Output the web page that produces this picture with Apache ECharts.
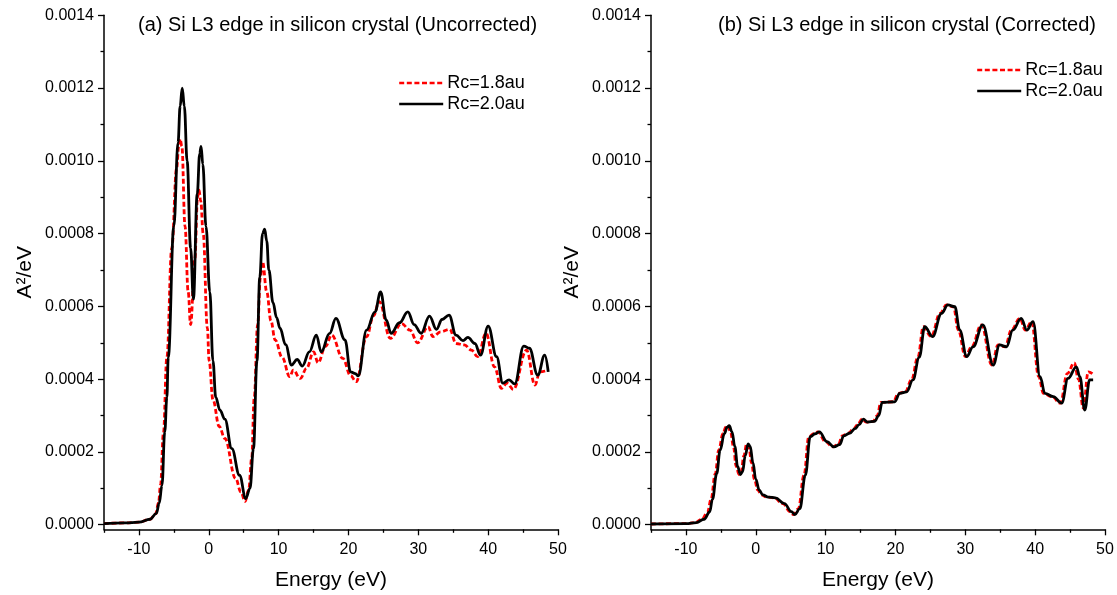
<!DOCTYPE html>
<html>
<head>
<meta charset="utf-8">
<script src="https://cdn.jsdelivr.net/npm/echarts@6/dist/echarts.min.js"></script>
<style>html,body{margin:0;padding:0;background:#fff}#c{width:1117px;height:595px}</style>
</head>
<body>
<div id="c"></div>
<script>
// ---- Panel (a) Uncorrected ----
const aE18 = [-15,-12,-10,-8.4,-7.6,-7.2,-6.9,-6.5,-6.0,-5.3,-4.6,-4.3,-4.1,-3.85,-3.4,-2.95,-2.6,-2.0,-1.6,-1.4,-1.15,-0.8,-0.2,0.05,0.6,1.5,2.3,3.85,4.6,5.2,5.7,6.15,6.5,7.0,7.4,7.7,8.3,8.9,9.5,10.5,11.6,12.1,13.1,14.0,15.0,15.65,16.7,17.6,19.2,20.3,21.1,22.6,23.6,24.4,26.0,27.6,28.8,29.9,31.4,32.1,33.2,34.5,35.4,36.6,37.6,38.5,39.7,40.9,41.9,42.7,43.6,45.5,46.7,47.4,48.6];
const aV18 = [0.000003,0.000005,0.000007,0.000015,0.00003,0.00006,0.00011,0.00025,0.00046,0.00076,0.00098,0.00104,0.00106,0.00104,0.00082,0.00064,0.00055,0.00073,0.0009,0.00092,0.00089,0.00080,0.00054,0.00045,0.000343,0.00027,0.000237,0.000127,0.00009,0.000064,0.000095,0.000182,0.000347,0.00055,0.00068,0.000723,0.00064,0.00056,0.000508,0.00046,0.000407,0.000425,0.000402,0.00043,0.000475,0.000445,0.00049,0.000521,0.000457,0.00041,0.000393,0.000517,0.000575,0.000613,0.000512,0.000553,0.000535,0.0005,0.000544,0.000517,0.00053,0.000537,0.000498,0.000494,0.00048,0.000462,0.000526,0.000434,0.000375,0.000389,0.000372,0.00048,0.000384,0.00042,0.000425];
const aE20 = [-15,-12,-10,-8.4,-7.5,-7.1,-6.7,-6.3,-6.0,-5.8,-5.0,-4.4,-4.1,-3.8,-3.5,-3.1,-2.6,-2.2,-1.65,-1.3,-1.1,-0.85,-0.4,0.15,0.6,1.0,1.6,2.3,3.3,4.4,5.3,5.9,6.4,6.9,7.3,7.7,8.0,8.3,8.6,9.2,9.7,10.2,11.0,11.85,12.65,13.4,14.4,15.4,16.1,17.3,18.2,19.5,20.3,21.0,21.4,22.6,23.8,24.6,25.4,26.1,27.3,28.5,29.4,30.4,31.6,32.6,33.4,34.4,35.4,36.4,37.1,38.1,38.9,40.0,41.2,42.1,43.0,43.8,45.1,45.9,47.1,48.1,48.6];
const aV20 = [0.000003,0.000005,0.000007,0.000015,0.000031,0.000059,0.000108,0.000255,0.00035,0.00046,0.00082,0.00105,0.00115,0.0012,0.00115,0.001,0.00076,0.00062,0.00091,0.00102,0.00104,0.00099,0.00082,0.00064,0.00045,0.00035,0.000315,0.00029,0.000209,0.000136,0.000072,0.0001,0.000209,0.00045,0.00068,0.0008,0.000812,0.00078,0.0007,0.00061,0.00057,0.00054,0.000495,0.000439,0.000454,0.000436,0.000475,0.000521,0.000475,0.000526,0.000567,0.000508,0.00042,0.000415,0.000409,0.000535,0.000585,0.00064,0.000563,0.000526,0.000555,0.000585,0.00055,0.000526,0.000573,0.000537,0.000564,0.000576,0.000521,0.000506,0.000515,0.000498,0.000466,0.000546,0.000462,0.000389,0.000398,0.000387,0.000491,0.000485,0.000411,0.000466,0.00042];

// ---- Panel (b) Corrected ----
const bE18 = [-15,-10,-8.7,-7.7,-6.9,-6.4,-5.8,-5.3,-4.7,-4.3,-4.0,-3.6,-3.2,-2.8,-2.4,-2.1,-1.7,-1.3,-1.0,-0.6,-0.2,0.3,0.8,1.6,2.6,3.9,4.9,5.4,6.1,6.9,7.6,8.3,8.9,10.0,11.0,11.8,12.4,13.3,14.0,14.6,15.2,15.8,16.8,17.4,17.9,19.7,20.4,21.4,22.3,23.2,24.0,25.1,26.4,27.3,28.3,29.0,30.0,30.9,32.3,33.8,34.7,35.7,36.6,37.8,38.6,39.5,40.5,41.2,42.4,43.6,44.6,45.6,46.2,46.9,47.6,48.2];
const bV18 = [0.000002,0.000003,0.000006,0.000015,0.000035,0.00007,0.00014,0.000205,0.00025,0.000268,0.000272,0.000255,0.000215,0.00016,0.000138,0.000145,0.00019,0.000222,0.000215,0.00017,0.000125,0.000095,0.000082,0.000076,0.000074,0.000058,0.000036,0.000028,0.000044,0.000136,0.000242,0.00025,0.000255,0.000228,0.000214,0.00022,0.000244,0.000252,0.000264,0.000275,0.00029,0.000282,0.000284,0.0003,0.000336,0.000338,0.000361,0.000365,0.000398,0.00046,0.000544,0.000517,0.000581,0.000604,0.000599,0.000535,0.000462,0.000489,0.000549,0.000439,0.000494,0.000489,0.000535,0.000567,0.000535,0.000558,0.000407,0.000361,0.000352,0.000334,0.000415,0.000445,0.0004,0.00032,0.00042,0.000415];
const bE20 = [-15,-10,-8.5,-7.4,-6.6,-6.2,-5.6,-5.1,-4.5,-4.1,-3.8,-3.4,-3.0,-2.6,-2.2,-1.9,-1.5,-1.1,-0.8,-0.4,0.0,0.5,1.0,1.8,2.8,4.1,5.1,5.6,6.3,7.1,7.8,8.5,9.1,10.2,11.2,12.0,12.6,13.5,14.2,14.8,15.4,16.0,17.0,17.6,18.1,19.9,20.6,21.6,22.5,23.4,24.2,25.3,26.6,27.5,28.5,29.2,30.2,31.1,32.5,34.0,34.9,35.9,36.8,38.0,38.8,39.7,40.7,41.4,42.6,43.8,44.7,45.9,46.4,47.1,47.8,48.3];
const bV20 = [0.000002,0.000003,0.000006,0.000015,0.000035,0.00007,0.00014,0.000205,0.00025,0.000268,0.000272,0.000255,0.000215,0.00016,0.000138,0.000145,0.00019,0.000222,0.000215,0.00017,0.000125,0.000095,0.000082,0.000076,0.000074,0.000058,0.000036,0.000028,0.000044,0.000136,0.000242,0.00025,0.000255,0.000228,0.000214,0.00022,0.000244,0.000252,0.000264,0.000275,0.00029,0.000282,0.000284,0.0003,0.000336,0.000338,0.000361,0.000365,0.000398,0.00046,0.000544,0.000517,0.000581,0.000604,0.000599,0.000535,0.000462,0.000489,0.000549,0.000439,0.000494,0.000489,0.000535,0.000567,0.000535,0.000558,0.000407,0.000361,0.000352,0.000334,0.000402,0.000434,0.000407,0.000315,0.000398,0.000398];

// ---- Axes ticks / labels ----
const xMajor = [-10, 0, 10, 20, 30, 40, 50];
const xMinor = [-15, -5, 5, 15, 25, 35, 45];
const yMajor = [0, 0.0002, 0.0004, 0.0006, 0.0008, 0.0010, 0.0012, 0.0014];
const yMinor = [0.0001, 0.0003, 0.0005, 0.0007, 0.0009, 0.0011, 0.0013];
const titles = ['(a) Si L3 edge in silicon crystal (Uncorrected)', '(b) Si L3 edge in silicon crystal (Corrected)'];
const seriesNames = ['Rc=1.8au', 'Rc=2.0au'];
const xName = 'Energy (eV)';
const yName = 'A\u00B2/eV';

const FONT = 'Liberation Sans, Arial, sans-serif';
const X_MIN = -15, X_MAX = 50, Y_MIN = -0.0000126, Y_MAX = 0.0014;

function zip(xs, ys) { return xs.map((x, i) => [x, ys[i]]); }

const grids = [
  { left: 104, top: 15.3, width: 454, bottom: 65.7, containLabel: false, outerBoundsMode: 'none' },
  { left: 651, top: 15.3, width: 454, bottom: 65.7, containLabel: false, outerBoundsMode: 'none' }
];
const axisLine = { show: true, onZero: false, lineStyle: { color: '#000', width: 1.5 } };
const hiddenLine = { show: false, onZero: false };
const tickStyle = { color: '#000', width: 1.3 };
const xAxes = [], yAxes = [];
[0, 1].forEach(g => {
  xAxes.push({
    gridIndex: g, type: 'value', min: X_MIN, max: X_MAX, position: 'bottom',
    axisLine: axisLine,
    axisTick: { show: true, customValues: xMajor, length: 6, lineStyle: tickStyle },
    axisLabel: { customValues: xMajor, color: '#000', fontSize: 16, fontFamily: FONT, margin: 12 },
    splitLine: { show: false },
    name: xName, nameLocation: 'middle', nameGap: 40,
    nameTextStyle: { fontSize: 21, fontFamily: FONT, color: '#000' }
  });
  xAxes.push({
    gridIndex: g, type: 'value', min: X_MIN, max: X_MAX, position: 'bottom',
    axisLine: hiddenLine,
    axisTick: { show: true, customValues: xMinor, length: 3.5, lineStyle: tickStyle },
    axisLabel: { show: false }, splitLine: { show: false }
  });
  yAxes.push({
    gridIndex: g, type: 'value', min: Y_MIN, max: Y_MAX, position: 'left',
    axisLine: axisLine,
    axisTick: { show: true, customValues: yMajor, length: 6, lineStyle: tickStyle },
    axisLabel: { customValues: yMajor, color: '#000', fontSize: 16, fontFamily: FONT, margin: 10,
      formatter: v => v.toFixed(4) },
    splitLine: { show: false },
    name: yName, nameLocation: 'middle', nameGap: 68, nameRotate: 90,
    nameTextStyle: { fontSize: 21, fontFamily: FONT, color: '#000' }
  });
  yAxes.push({
    gridIndex: g, type: 'value', min: Y_MIN, max: Y_MAX, position: 'left',
    axisLine: hiddenLine,
    axisTick: { show: true, customValues: yMinor, length: 3.5, lineStyle: tickStyle },
    axisLabel: { show: false }, splitLine: { show: false }
  });
});

function redSeries(xi, yi, data) {
  return { name: seriesNames[0], type: 'line', xAxisIndex: xi, yAxisIndex: yi, data: data,
    symbol: 'none', smooth: 0.4, smoothMonotone: 'x', z: 2,
    lineStyle: { color: '#ff0000', width: 2.8, type: [5, 2.6] }, itemStyle: { color: '#ff0000' } };
}
function blackSeries(xi, yi, data) {
  return { name: seriesNames[1], type: 'line', xAxisIndex: xi, yAxisIndex: yi, data: data,
    symbol: 'none', smooth: 0.4, smoothMonotone: 'x', z: 3,
    lineStyle: { color: '#000', width: 2.8 }, itemStyle: { color: '#000' } };
}

const legendBase = { data: seriesNames, orient: 'vertical', padding: 0, itemWidth: 44, itemHeight: 14, itemGap: 3,
  itemStyle: { opacity: 0 }, lineStyle: { width: 2.4 },
  textStyle: { fontSize: 18, fontFamily: FONT, color: '#000', padding: [0, 0, 0, -1] } };

const option = {
  backgroundColor: '#fff',
  animation: false,
  title: [
    { text: titles[0], left: 138, top: 15, padding: 0, textStyle: { fontSize: 20, fontWeight: 'normal', fontFamily: FONT, color: '#000' } },
    { text: titles[1], left: 718, top: 15, padding: 0, textStyle: { fontSize: 20, fontWeight: 'normal', fontFamily: FONT, color: '#000' } }
  ],
  legend: [
    Object.assign({}, legendBase, { left: 398, top: 74 }),
    Object.assign({}, legendBase, { left: 976, top: 61 })
  ],
  grid: grids,
  xAxis: xAxes,
  yAxis: yAxes,
  series: [
    redSeries(0, 0, zip(aE18, aV18)),
    blackSeries(0, 0, zip(aE20, aV20)),
    redSeries(2, 2, zip(bE18, bV18)),
    blackSeries(2, 2, zip(bE20, bV20))
  ]
};
const chart = echarts.init(document.getElementById('c'), null, { renderer: 'canvas' });
chart.setOption(option);
</script>
</body>
</html>
